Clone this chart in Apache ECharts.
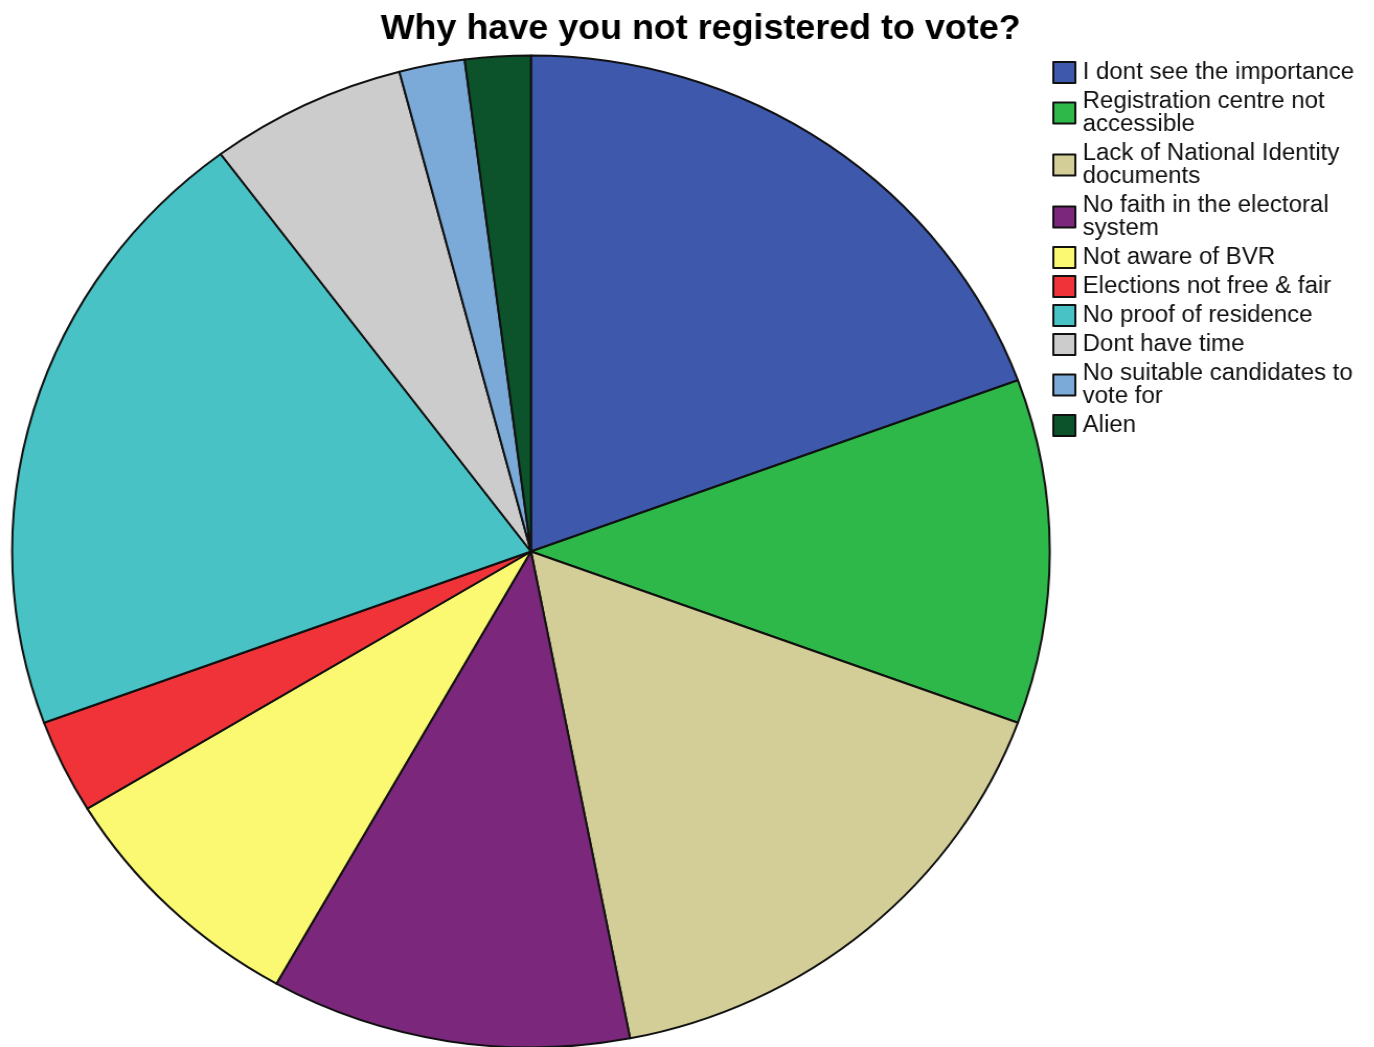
<!DOCTYPE html>
<html>
<head>
<meta charset="utf-8">
<title>Why have you not registered to vote?</title>
<script src="https://cdn.jsdelivr.net/npm/echarts@6/dist/echarts.min.js"></script>
<style>
  html, body { margin: 0; padding: 0; background: #ffffff; overflow: hidden; }
  /* The chart is laid out slightly narrower and widened horizontally,
     so the pie reads as a wide ellipse like the survey software output. */
  #chart {
    width: 1313.6px;
    height: 1047px;
    transform: scaleX(1.046);
    transform-origin: 0 0;
  }
</style>
</head>
<body>
<div id="chart"></div>
<script>
// Reasons given for not registering (respondent counts)
const categories = [
  'I dont see the importance',
  'Registration centre not accessible',
  'Lack of National Identity documents',
  'No faith in the electoral system',
  'Not aware of BVR',
  'Elections not free & fair',
  'No proof of residence',
  'Dont have time',
  'No suitable candidates to vote for',
  'Alien'
];
const legendLabels = [
  'I dont see the importance',
  'Registration centre not\naccessible',
  'Lack of National Identity\ndocuments',
  'No faith in the electoral\nsystem',
  'Not aware of BVR',
  'Elections not free & fair',
  'No proof of residence',
  'Dont have time',
  'No suitable candidates to\nvote for',
  'Alien'
];
const counts = [19, 11, 16, 11, 8, 3, 20, 6, 2, 2];
const colors = [
  '#3E58AC', '#2FB84A', '#D3CE98', '#7B287C', '#FBF872',
  '#EF3339', '#48C2C5', '#CCCCCC', '#7BAAD8', '#0C532B'
];

const labelFor = {};
categories.forEach((c, i) => { labelFor[c] = legendLabels[i]; });

const chart = echarts.init(document.getElementById('chart'), null, { renderer: 'canvas' });

chart.setOption({
  backgroundColor: '#ffffff',
  animation: false,
  title: {
    text: 'Why have you not registered to vote?',
    left: 364,
    top: 13,
    padding: 0,
    textStyle: {
      fontFamily: 'Liberation Sans, Arial, sans-serif',
      fontWeight: 'bold',
      fontSize: 34.3,
      color: '#000000'
    }
  },
  legend: {
    orient: 'vertical',
    left: 1006,
    top: 61,
    padding: 0,
    itemWidth: 21,
    itemHeight: 21,
    itemGap: 6,
    icon: 'rect',
    selectedMode: false,
    data: categories,
    formatter: name => labelFor[name],
    itemStyle: { borderColor: '#111111', borderWidth: 2 },
    textStyle: {
      fontFamily: 'Liberation Sans, Arial, sans-serif',
      fontSize: 23,
      lineHeight: 23,
      color: '#111111',
      padding: [0, 0, 0, 2]
    }
  },
  series: [{
    type: 'pie',
    center: [507.6, 551.5],
    radius: 496,
    startAngle: 90,
    clockwise: true,
    avoidLabelOverlap: false,
    label: { show: false },
    labelLine: { show: false },
    emphasis: { disabled: true },
    itemStyle: { borderColor: '#111111', borderWidth: 2 },
    data: categories.map((name, i) => ({
      name: name,
      value: counts[i],
      itemStyle: { color: colors[i] }
    }))
  }]
});
</script>
</body>
</html>
